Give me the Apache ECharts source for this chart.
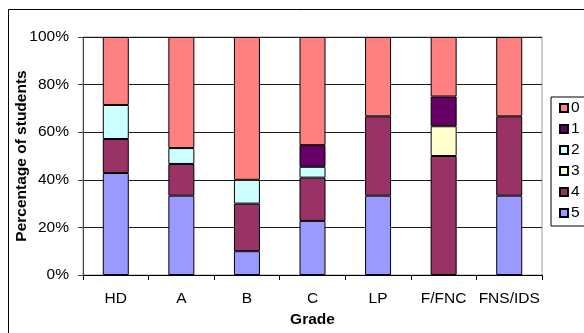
<!DOCTYPE html>
<html>
<head>
<meta charset="utf-8">
<script src="https://cdn.jsdelivr.net/npm/echarts@6/dist/echarts.min.js"></script>
<style>
  html, body { margin: 0; padding: 0; background: #fff; }
  #chart { width: 584px; height: 333px; }
</style>
</head>
<body>
<div id="chart"></div>
<script>
// Grade categories along the x axis
const grades = ['HD', 'A', 'B', 'C', 'LP', 'F/FNC', 'FNS/IDS'];

// Share of students (%) per score, one array per score
const score5 = [42.86, 33.33, 10.00, 22.73, 33.33, 0.00, 33.33];
const score4 = [14.29, 13.33, 20.00, 18.18, 33.33, 50.00, 33.33];
const score3 = [0.00, 0.00, 0.00, 0.00, 0.00, 12.50, 0.00];
const score2 = [14.29, 6.67, 10.00, 4.55, 0.00, 0.00, 0.00];
const score1 = [0.00, 0.00, 0.00, 9.09, 0.00, 12.50, 0.00];
const score0 = [28.57, 46.67, 60.00, 45.45, 33.33, 25.00, 33.33];

const yTicks = [0, 20, 40, 60, 80, 100];

const seriesDefs = [
  { name: '5', data: score5, color: '#9999FF' },
  { name: '4', data: score4, color: '#993366' },
  { name: '3', data: score3, color: '#FFFFCC' },
  { name: '2', data: score2, color: '#CCFFFF' },
  { name: '1', data: score1, color: '#660066' },
  { name: '0', data: score0, color: '#FF8080' }
];

const font = 'Liberation Sans, Arial, sans-serif';
const chart = echarts.init(document.getElementById('chart'), null, { renderer: 'canvas' });

chart.setOption({
  animation: false,
  backgroundColor: '#fff',
  textStyle: { fontFamily: font },
  graphic: [{
    type: 'rect',
    shape: { x: 8.5, y: 9.5, width: 700, height: 400 },
    style: { fill: 'none', stroke: '#000', lineWidth: 1 },
    silent: true,
    z: -1
  }],
  grid: {
    left: 83, right: 42, top: 37, bottom: 53,
    show: true, borderColor: '#9a9a9a', borderWidth: 1, backgroundColor: 'transparent'
  },
  legend: {
    orient: 'vertical',
    left: 551, top: 97,
    data: ['0', '1', '2', '3', '4', '5'],
    icon: 'rect',
    itemWidth: 8, itemHeight: 8,
    itemGap: 5,
    padding: [3, 30, 5, 8],
    borderColor: '#000', borderWidth: 1,
    textStyle: { fontFamily: font, fontSize: 15.5, color: '#000', lineHeight: 16, padding: [0, 0, 0, -2] }
  },
  xAxis: {
    type: 'category',
    data: grades,
    name: 'Grade',
    nameLocation: 'middle',
    nameGap: 37,
    nameMoveOverlap: false,
    nameTextStyle: { fontFamily: font, fontSize: 15.5, fontWeight: 'bold', color: '#000' },
    axisLine: { lineStyle: { color: '#000', width: 1 } },
    axisTick: { show: true, length: 5, lineStyle: { color: '#000' } },
    axisLabel: { fontFamily: font, fontSize: 15.5, color: '#000', margin: 16, interval: 0 }
  },
  yAxis: {
    type: 'value',
    min: 0, max: 100, interval: 20,
    name: 'Percentage of students',
    nameLocation: 'middle',
    nameGap: 53,
    nameMoveOverlap: false,
    nameTextStyle: { fontFamily: font, fontSize: 15.5, fontWeight: 'bold', color: '#000' },
    axisLine: { show: true, lineStyle: { color: '#444', width: 1 } },
    axisTick: { show: true, length: 5, lineStyle: { color: '#444' } },
    axisLabel: {
      fontFamily: font, fontSize: 15.5, color: '#000', margin: 14,
      formatter: v => (yTicks.includes(v) ? v + '%' : '')
    },
    splitLine: { show: true, lineStyle: { color: '#1a1a1a', width: 1 } }
  },
  series: seriesDefs.map(s => ({
    type: 'bar',
    name: s.name,
    stack: 'total',
    // empty segments are left out so they draw no outline
    data: s.data.map(v => (v === 0 ? '-' : v)),
    barWidth: 26,
    itemStyle: { color: s.color, borderColor: '#000', borderWidth: 1 }
  }))
});
</script>
</body>
</html>
